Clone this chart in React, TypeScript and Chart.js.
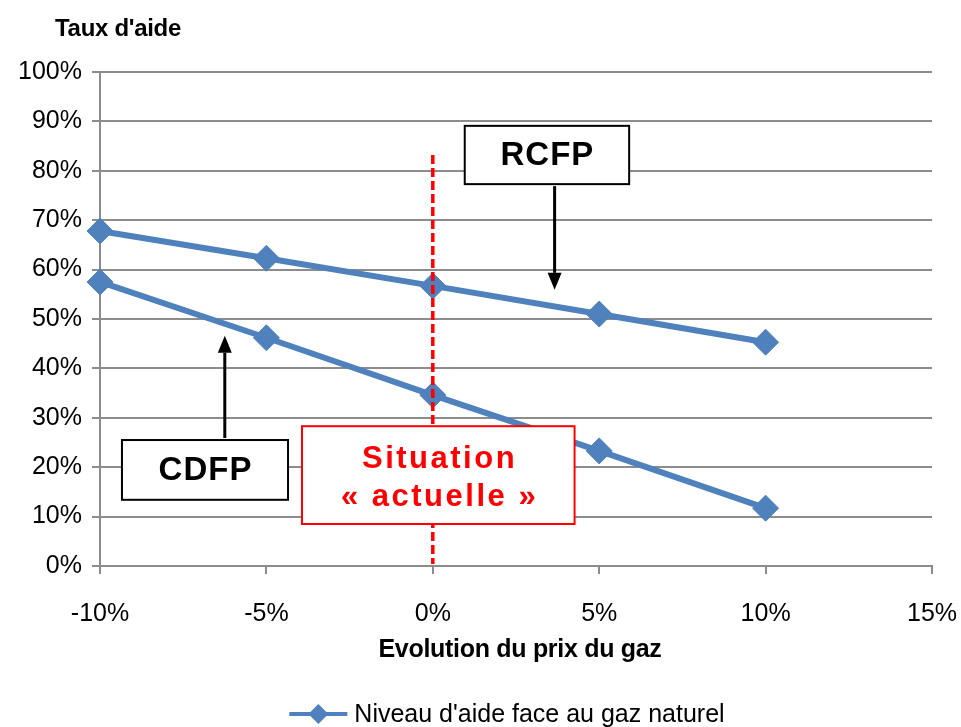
import React, { useEffect, useRef } from "react";
import { Chart, registerables } from "chart.js";

Chart.register(...registerables);

// ---- data ----
const xValues = [-10, -5, 0, 5, 10];
const rcfpValues = [67.8, 62.3, 56.7, 51.0, 45.3];
const cdfpValues = [57.5, 46.2, 34.6, 23.3, 11.7];
const xTicks = [-10, -5, 0, 5, 10, 15];
const legendLabel = "Niveau d'aide face au gaz naturel";
const yTitle = "Taux d'aide";
const xTitle = "Evolution du prix du gaz";
const rcfpLabel = "RCFP";
const cdfpLabel = "CDFP";
const situationLines = ["Situation", "\u00ab actuelle \u00bb"];

const BLUE = "#4F81BD";
const GRID = "#8C8C8C";
const FONT = "'Liberation Sans', Arial, sans-serif";

function drawDiamond(ctx: CanvasRenderingContext2D, cx: number, cy: number, r: number) {
  ctx.beginPath();
  ctx.moveTo(cx, cy - r);
  ctx.lineTo(cx + r, cy);
  ctx.lineTo(cx, cy + r);
  ctx.lineTo(cx - r, cy);
  ctx.closePath();
  ctx.fill();
}

function drawBox(
  ctx: CanvasRenderingContext2D,
  x1: number, y1: number, x2: number, y2: number,
  stroke: string, lines: string[], color: string, font: string, spacing: number, lineGap: number, dy: number
) {
  ctx.save();
  ctx.fillStyle = "#FFFFFF";
  ctx.fillRect(x1, y1, x2 - x1, y2 - y1);
  ctx.strokeStyle = stroke;
  ctx.lineWidth = 2;
  ctx.strokeRect(x1, y1, x2 - x1, y2 - y1);
  ctx.fillStyle = color;
  ctx.font = font;
  ctx.textAlign = "center";
  ctx.textBaseline = "middle";
  (ctx as any).letterSpacing = spacing + "px";
  const cx = (x1 + x2) / 2 + spacing / 2;
  const cy = (y1 + y2) / 2 + dy;
  const n = lines.length;
  lines.forEach((t, i) => {
    ctx.fillText(t, cx, cy + (i - (n - 1) / 2) * lineGap);
  });
  ctx.restore();
}

function drawArrow(ctx: CanvasRenderingContext2D, x: number, yFrom: number, yTo: number) {
  const dir = yTo > yFrom ? 1 : -1;
  const head = 17;
  ctx.save();
  ctx.strokeStyle = "#000";
  ctx.fillStyle = "#000";
  ctx.lineWidth = 3;
  ctx.beginPath();
  ctx.moveTo(x, yFrom);
  ctx.lineTo(x, yTo - dir * head);
  ctx.stroke();
  ctx.beginPath();
  ctx.moveTo(x, yTo);
  ctx.lineTo(x - 7, yTo - dir * head);
  ctx.lineTo(x + 7, yTo - dir * head);
  ctx.closePath();
  ctx.fill();
  ctx.restore();
}

const annotationPlugin = {
  id: "annotations",
  afterDatasetsDraw(chart: any) {
    const { ctx, scales, chartArea } = chart;
    const px = (v: number) => scales.x.getPixelForValue(v);
    const py = (v: number) => scales.y.getPixelForValue(v);
    ctx.save();
    // red dashed line at current situation
    ctx.strokeStyle = "#FF0000";
    ctx.lineWidth = 3.5;
    ctx.setLineDash([9, 4]);
    ctx.beginPath();
    ctx.moveTo(px(0), py(83.2));
    ctx.lineTo(px(0), chartArea.bottom - 2);
    ctx.stroke();
    ctx.setLineDash([]);
    ctx.restore();

    // RCFP
    drawBox(ctx, px(0.96), py(89.1), px(5.9), py(77.3), "#000", [rcfpLabel], "#000",
      `bold 33px ${FONT}`, 1, 0, 1);
    drawArrow(ctx, px(3.66), py(77.3) + 2, py(55.9));

    // CDFP
    drawBox(ctx, px(-9.34), py(25.5), px(-4.35), py(13.4), "#000", [cdfpLabel], "#000",
      `bold 33px ${FONT}`, 1, 0, 1);
    drawArrow(ctx, px(-6.25), py(25.5) - 2, py(46.6));

    // Situation actuelle
    drawBox(ctx, px(-3.93), py(28.3), px(4.26), py(8.5), "#FF0000", situationLines, "#FF0000",
      `bold 31px ${FONT}`, 2.5, 38, 3);
  },
  afterDraw(chart: any) {
    const { ctx, chartArea } = chart;
    ctx.save();
    ctx.fillStyle = "#000";
    ctx.textBaseline = "middle";
    // y title
    ctx.font = `bold 24px ${FONT}`;
    (ctx as any).letterSpacing = "-0.3px";
    ctx.textAlign = "left";
    ctx.fillText(yTitle, chartArea.left - 45, chartArea.top - 43);
    // x title
    ctx.font = `bold 25px ${FONT}`;
    ctx.textAlign = "center";
    ctx.fillText(xTitle, (chartArea.left + chartArea.right) / 2 + 4, chartArea.bottom + 84);
    (ctx as any).letterSpacing = "0px";
    // legend
    ctx.font = `25px ${FONT}`;
    const tw = ctx.measureText(legendLabel).width;
    const lineW = 58;
    const gap = 7;
    const total = lineW + gap + tw;
    const lx = (chartArea.left + chartArea.right) / 2 - total / 2 - 9;
    const ly = chartArea.bottom + 148;
    ctx.strokeStyle = BLUE;
    ctx.lineWidth = 4;
    ctx.beginPath();
    ctx.moveTo(lx, ly);
    ctx.lineTo(lx + lineW, ly);
    ctx.stroke();
    ctx.fillStyle = BLUE;
    drawDiamond(ctx, lx + lineW / 2, ly, 10);
    ctx.fillStyle = "#000";
    ctx.textAlign = "left";
    ctx.fillText(legendLabel, lx + lineW + gap, ly + 1);
    ctx.restore();
  },
};

function makeDataset(values: number[]) {
  return {
    label: legendLabel,
    data: xValues.map((x, i) => ({ x, y: values[i] })),
    borderColor: BLUE,
    backgroundColor: BLUE,
    borderWidth: 6,
    pointStyle: "rectRot",
    pointRadius: 13,
    pointBorderWidth: 1,
    pointBorderColor: BLUE,
    pointBackgroundColor: BLUE,
    tension: 0,
    clip: false,
  };
}

export default function App() {
  const canvasRef = useRef<HTMLCanvasElement | null>(null);

  useEffect(() => {
    const canvas = canvasRef.current;
    if (!canvas) return;
    const chart = new Chart(canvas, {
      type: "line",
      data: {
        datasets: [makeDataset(rcfpValues), makeDataset(cdfpValues)] as any,
      },
      options: {
        responsive: false,
        animation: false,
        layout: { padding: { top: 72, right: 29, bottom: 0, left: 0 } },
        plugins: {
          legend: { display: false },
          tooltip: { enabled: false },
          title: { display: false },
        },
        scales: {
          x: {
            type: "linear",
            min: -10,
            max: 15,
            afterBuildTicks: (scale: any) => {
              scale.ticks = xTicks.map((v) => ({ value: v }));
            },
            afterFit: (scale: any) => {
              scale.height = 161;
              scale.paddingLeft = 0;
              scale.paddingRight = 0;
            },
            grid: {
              drawOnChartArea: false,
              drawTicks: true,
              tickLength: 8,
              color: GRID,
              lineWidth: 2,
            },
            border: { display: true, color: GRID, width: 2 },
            ticks: {
              color: "#000",
              padding: 25,
              font: { family: FONT, size: 25 },
              callback: (v: any) => `${v}%`,
            },
          },
          y: {
            type: "linear",
            min: 0,
            max: 100,
            afterFit: (scale: any) => {
              scale.width = 100;
              scale.paddingTop = 0;
              scale.paddingBottom = 0;
            },
            grid: {
              drawOnChartArea: true,
              drawTicks: true,
              tickLength: 8,
              color: GRID,
              lineWidth: 2,
            },
            border: { display: true, color: GRID, width: 2 },
            ticks: {
              stepSize: 10,
              color: "#000",
              padding: 10,
              font: { family: FONT, size: 25 },
              callback: (v: any) => `${v}%`,
            },
          },
        },
      } as any,
      plugins: [annotationPlugin],
    });
    return () => chart.destroy();
  }, []);

  return (
    <div style={{ position: "absolute", left: 0, top: 0, width: 961, height: 727, background: "#fff" }}>
      <canvas ref={canvasRef} width={961} height={727} style={{ display: "block" }} />
    </div>
  );
}
